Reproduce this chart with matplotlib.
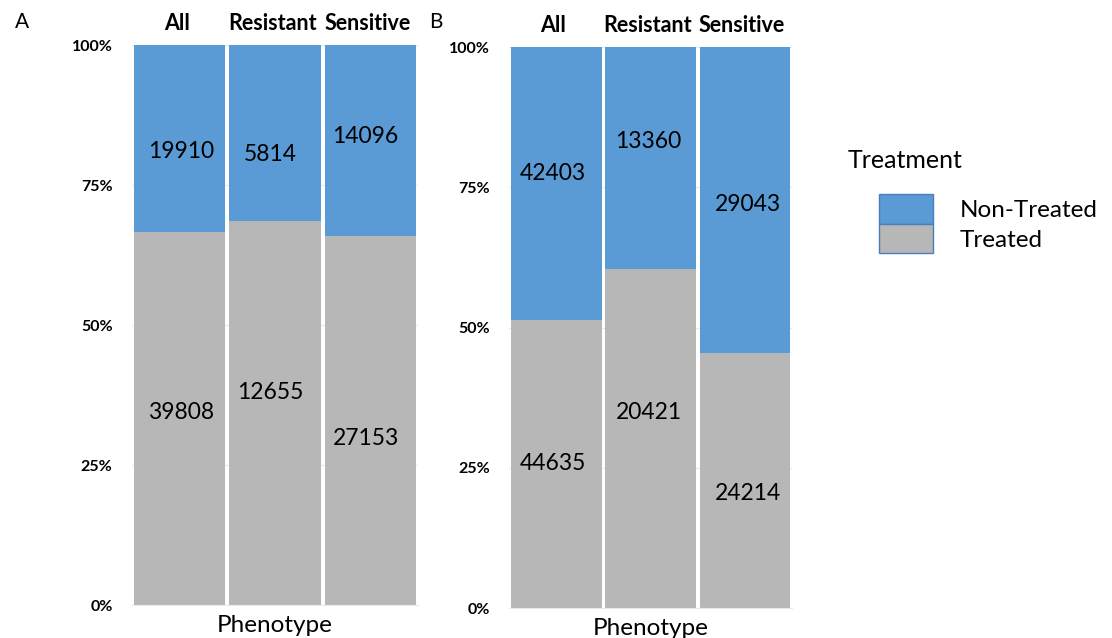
import numpy as np
import matplotlib.pyplot as plt
from matplotlib.patches import Patch

plt.rcParams['font.family'] = ['Lato', 'DejaVu Sans']

phenotypes = ['All', 'Resistant', 'Sensitive']
treated_a = [39808, 12655, 27153]
nontreated_a = [19910, 5814, 14096]
treated_b = [44635, 20421, 24214]
nontreated_b = [42403, 13360, 29043]
pct_ticks = [0, 0.25, 0.5, 0.75, 1.0]
pct_labels = ['0%', '25%', '50%', '75%', '100%']

# where the count labels sit inside each bar (fraction of bar height)
lab_y_treated_a = [0.343, 0.379, 0.298]
lab_y_non_a = [0.809, 0.804, 0.8375]
lab_y_treated_b = [0.257, 0.348, 0.205]
lab_y_non_b = [0.774, 0.831, 0.720]
lab_dx_a = [0.02, -0.05, -0.05]
lab_dx_b = [-0.04, -0.02, 0.03]

blue = '#5B9BD5'
grey = '#B7B7B7'

fig = plt.figure(figsize=(11.12, 6.38), dpi=100)


def panel(rect, treated, nontreated, y_t, y_n, dx):
    ax = fig.add_axes(rect)
    treated = np.array(treated, dtype=float)
    nontreated = np.array(nontreated, dtype=float)
    tot = treated + nontreated
    ft = treated / tot
    fn = nontreated / tot
    x = np.arange(len(phenotypes))
    ax.bar(x, ft, width=0.96, color=grey, zorder=2)
    ax.bar(x, fn, bottom=ft, width=0.96, color=blue, zorder=2)
    for i in range(len(x)):
        ax.text(x[i] + dx[i], y_t[i], str(int(treated[i])), ha='center', va='center',
                fontsize=16.5, zorder=3)
        ax.text(x[i] + dx[i], y_n[i], str(int(nontreated[i])), ha='center', va='center',
                fontsize=16.5, zorder=3)
        ax.text(x[i] - 0.03, 1.038, phenotypes[i], ha='center', va='center', fontsize=15.5,
                fontweight='bold', transform=ax.get_xaxis_transform())
    ax.set_xlim(-0.5, 2.5)
    ax.set_ylim(0, 1)
    ax.set_yticks(pct_ticks)
    ax.set_yticklabels(pct_labels, fontsize=11.5, fontweight='bold')
    ax.tick_params(axis='y', length=0, pad=14)
    ax.set_xticks([])
    ax.grid(axis='y', color='#EBEBEB', lw=1, zorder=0)
    for s in ['top', 'left', 'right']:
        ax.spines[s].set_visible(False)
    ax.spines['bottom'].set_color('#EBEBEB')
    ax.set_xlabel('Phenotype', fontsize=17.5, labelpad=7)
    return ax


panel([0.1187, 0.0517, 0.2572, 0.8777], treated_a, nontreated_a,
      lab_y_treated_a, lab_y_non_a, lab_dx_a)
panel([0.4578, 0.047, 0.2545, 0.8793], treated_b, nontreated_b,
      lab_y_treated_b, lab_y_non_b, lab_dx_b)

fig.text(0.013, 0.965, 'A', fontsize=15, va='center')
fig.text(0.386, 0.965, 'B', fontsize=15, va='center')

fig.text(0.762, 0.749, 'Treatment', fontsize=18, va='center')
handles = [Patch(facecolor=blue, edgecolor='#4A7EBB', lw=1),
           Patch(facecolor=grey, edgecolor='#4A7EBB', lw=1)]
fig.legend(handles, ['Non-Treated', 'Treated'], loc='upper left',
           bbox_to_anchor=(0.782, 0.711), frameon=False, fontsize=17.5,
           handlelength=2.2, handleheight=1.5, labelspacing=0.0,
           handletextpad=1.1, borderaxespad=0)

fig.savefig('out.png', dpi=100)
